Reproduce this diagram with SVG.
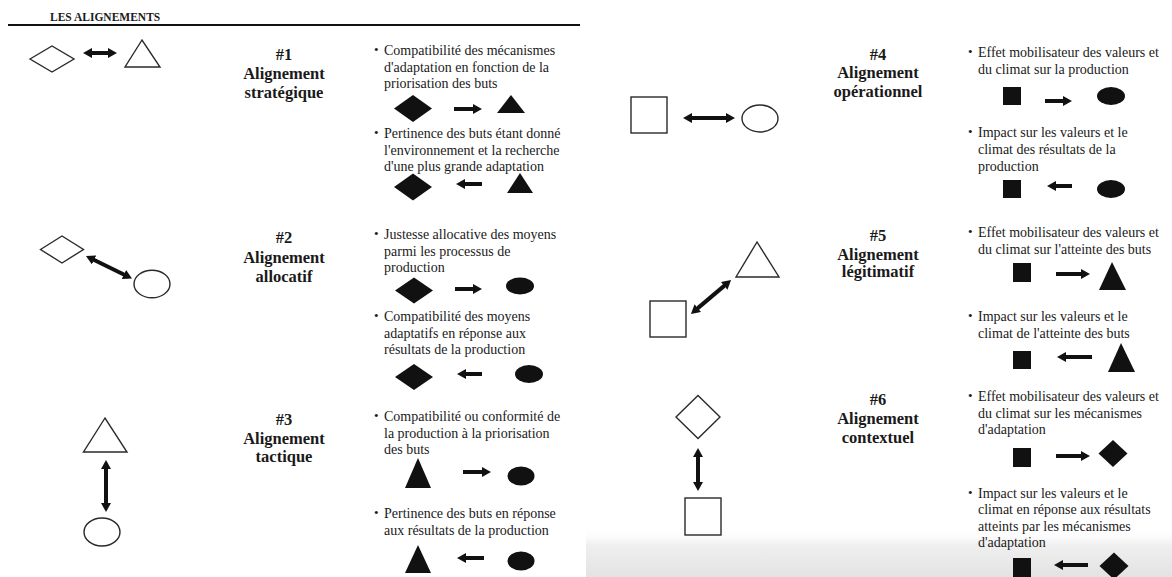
<svg xmlns="http://www.w3.org/2000/svg" width="1172" height="577" viewBox="0 0 1172 577">
<style>
.ol{fill:none;stroke:#2a2a2a;stroke-width:1.4}
.fi{fill:#111}
.cn{stroke:#111;stroke-width:4;fill:none;marker-start:url(#ah);marker-end:url(#ah)}
.ar{stroke:#111;stroke-width:4;fill:none;marker-end:url(#ah)}
text{font-family:"Liberation Serif","Times New Roman",serif;fill:#1a1a1a}
.t{font-size:14px}
.bu{font-size:13px}
.h{font-size:16.5px;font-weight:bold;text-anchor:middle}
.hd{font-size:11.5px;font-weight:bold}
</style>
<defs>
<marker id="ah" viewBox="0 0 9 10" refX="5" refY="5" markerWidth="9" markerHeight="10" markerUnits="userSpaceOnUse" orient="auto-start-reverse"><path d="M0,0 L9,5 L0,10 z" fill="#111"/></marker>
<linearGradient id="gb" x1="0" y1="0" x2="0" y2="1"><stop offset="0" stop-color="#ffffff" stop-opacity="0"/><stop offset="0.35" stop-color="#efefef"/><stop offset="1" stop-color="#e3e3e3"/></linearGradient>
</defs>
<rect x="0" y="0" width="1172" height="577" fill="#ffffff"/>
<rect x="586" y="528" width="586" height="49" fill="url(#gb)"/>

<g id="header">
<text class="hd" x="50" y="20.5">LES ALIGNEMENTS</text>
<line x1="8" y1="25" x2="580" y2="25" stroke="#111" stroke-width="2"/>
</g>

<!-- nodes -->
<g id="n1-diamond"><polygon class="ol" points="30,59 52,46 74,59 52,72"/></g>
<g id="n1-triangle"><polygon class="ol" points="142,40 125,67 160,67"/></g>
<g id="n2-diamond"><polygon class="ol" points="40.5,249.5 62,236 83.5,249.5 62,263"/></g>
<g id="n2-ellipse"><ellipse class="ol" cx="152" cy="284" rx="18" ry="13.7"/></g>
<g id="n3-triangle"><polygon class="ol" points="105,418 83.5,452 127,452"/></g>
<g id="n3-ellipse"><ellipse class="ol" cx="102" cy="532" rx="18" ry="14"/></g>
<g id="n4-square"><rect class="ol" x="631" y="97" width="36" height="36"/></g>
<g id="n4-ellipse"><ellipse class="ol" cx="760" cy="118.5" rx="18" ry="13.5"/></g>
<g id="n5-triangle"><polygon class="ol" points="757,242 736,277 779,277"/></g>
<g id="n5-square"><rect class="ol" x="650" y="301" width="36" height="36"/></g>
<g id="n6-diamond"><polygon class="ol" points="676,417 698,395.5 720,417 698,438.5"/></g>
<g id="n6-square"><rect class="ol" x="685" y="498" width="36" height="37"/></g>

<g id="connectors">
<line class="cn" x1="87" y1="53" x2="113" y2="53"/>
<line class="cn" x1="89.6" y1="257.8" x2="128.4" y2="276.7"/>
<line class="cn" x1="106" y1="464" x2="106" y2="508"/>
<line class="cn" x1="687" y1="118" x2="731" y2="118"/>
<line class="cn" x1="694" y1="311.4" x2="728" y2="282.6"/>
<line class="cn" x1="698" y1="452" x2="698" y2="487"/>
</g>

<g id="sec1">
<text class="h" x="284" y="60">#1</text>
<text class="h" x="284" y="79">Alignement</text>
<text class="h" x="284" y="98">stratégique</text>
<text class="bu" x="374" y="54">•</text>
<text class="t" x="384" y="55">Compatibilité des mécanismes</text>
<text class="t" x="384" y="71.5">d'adaptation en fonction de la</text>
<text class="t" x="384" y="88">priorisation des buts</text>
<polygon class="fi" points="394,108.5 413,95 432,108.5 413,122"/>
<line class="ar" x1="454" y1="109" x2="478" y2="109"/>
<polygon class="fi" points="511,95 497,113 525,113"/>
<text class="bu" x="374" y="137">•</text>
<text class="t" x="384" y="138">Pertinence des buts étant donné</text>
<text class="t" x="384" y="154.5">l'environnement et la recherche</text>
<text class="t" x="384" y="171">d'une plus grande adaptation</text>
<polygon class="fi" points="394,187 413,173.5 432,187 413,200.5"/>
<line class="ar" x1="482" y1="184" x2="460" y2="184"/>
<polygon class="fi" points="520,173 507,193 533,193"/>
</g>

<g id="sec2">
<text class="h" x="284" y="243">#2</text>
<text class="h" x="284" y="263">Alignement</text>
<text class="h" x="284" y="282">allocatif</text>
<text class="bu" x="374" y="238">•</text>
<text class="t" x="384" y="239">Justesse allocative des moyens</text>
<text class="t" x="384" y="255.5">parmi les processus de</text>
<text class="t" x="384" y="272">production</text>
<polygon class="fi" points="395,290.5 414,277.5 433,290.5 414,303.5"/>
<line class="ar" x1="455" y1="289" x2="478" y2="289"/>
<ellipse class="fi" cx="520" cy="286" rx="14" ry="8.5"/>
<text class="bu" x="374" y="320">•</text>
<text class="t" x="384" y="321">Compatibilité des moyens</text>
<text class="t" x="384" y="337.5">adaptatifs en réponse aux</text>
<text class="t" x="384" y="354">résultats de la production</text>
<polygon class="fi" points="395,377 414,364 433,377 414,390"/>
<line class="ar" x1="482" y1="374" x2="461" y2="374"/>
<ellipse class="fi" cx="529" cy="374" rx="14" ry="9"/>
</g>

<g id="sec3">
<text class="h" x="284" y="425">#3</text>
<text class="h" x="284" y="444">Alignement</text>
<text class="h" x="284" y="462">tactique</text>
<text class="bu" x="374" y="420">•</text>
<text class="t" x="384" y="421">Compatibilité ou conformité de</text>
<text class="t" x="384" y="437.5">la production à la priorisation</text>
<text class="t" x="384" y="454">des buts</text>
<polygon class="fi" points="418,458 405,488 431,488"/>
<line class="ar" x1="463" y1="472" x2="487" y2="472"/>
<ellipse class="fi" cx="521" cy="476" rx="13.5" ry="9.5"/>
<text class="bu" x="374" y="517">•</text>
<text class="t" x="384" y="518">Pertinence des buts en réponse</text>
<text class="t" x="384" y="534.5">aux résultats de la production</text>
<polygon class="fi" points="418,545 405,573 431,573"/>
<line class="ar" x1="484" y1="558" x2="461" y2="558"/>
<ellipse class="fi" cx="521" cy="561" rx="13.5" ry="9.5"/>
</g>

<g id="sec4">
<text class="h" x="878" y="60">#4</text>
<text class="h" x="878" y="78">Alignement</text>
<text class="h" x="878" y="97">opérationnel</text>
<text class="bu" x="968" y="56">•</text>
<text class="t" x="978" y="57">Effet mobilisateur des valeurs et</text>
<text class="t" x="978" y="74">du climat sur la production</text>
<rect class="fi" x="1003" y="87" width="18" height="18"/>
<line class="ar" x1="1045" y1="101" x2="1068" y2="101"/>
<ellipse class="fi" cx="1111" cy="96" rx="14" ry="9"/>
<text class="bu" x="968" y="136">•</text>
<text class="t" x="978" y="137">Impact sur les valeurs et le</text>
<text class="t" x="978" y="154">climat des résultats de la</text>
<text class="t" x="978" y="171">production</text>
<rect class="fi" x="1003" y="180" width="18" height="18"/>
<line class="ar" x1="1072" y1="186" x2="1051" y2="186"/>
<ellipse class="fi" cx="1111" cy="189" rx="14" ry="9"/>
</g>

<g id="sec5">
<text class="h" x="878" y="241">#5</text>
<text class="h" x="878" y="259.5">Alignement</text>
<text class="h" x="878" y="277">légitimatif</text>
<text class="bu" x="968" y="236">•</text>
<text class="t" x="978" y="237">Effet mobilisateur des valeurs et</text>
<text class="t" x="978" y="253.5">du climat sur l'atteinte des buts</text>
<rect class="fi" x="1013" y="263" width="18" height="19"/>
<line class="ar" x1="1056" y1="274" x2="1086" y2="274"/>
<polygon class="fi" points="1112,262 1099,290 1126,290"/>
<text class="bu" x="968" y="320">•</text>
<text class="t" x="978" y="321">Impact sur les valeurs et le</text>
<text class="t" x="978" y="337.5">climat de l'atteinte des buts</text>
<rect class="fi" x="1013" y="351" width="18" height="18"/>
<line class="ar" x1="1092" y1="357" x2="1061" y2="357"/>
<polygon class="fi" points="1121,343 1108,372 1135,372"/>
</g>

<g id="sec6">
<text class="h" x="878" y="405">#6</text>
<text class="h" x="878" y="424">Alignement</text>
<text class="h" x="878" y="443">contextuel</text>
<text class="bu" x="968" y="400">•</text>
<text class="t" x="978" y="401">Effet mobilisateur des valeurs et</text>
<text class="t" x="978" y="417.5">du climat sur les mécanismes</text>
<text class="t" x="978" y="434">d'adaptation</text>
<rect class="fi" x="1013" y="448" width="18" height="19"/>
<line class="ar" x1="1056" y1="456" x2="1086" y2="456"/>
<polygon class="fi" points="1098.5,453.5 1113,440 1127.5,453.5 1113,467"/>
<text class="bu" x="968" y="496.5">•</text>
<text class="t" x="978" y="497.5">Impact sur les valeurs et le</text>
<text class="t" x="978" y="514">climat en réponse aux résultats</text>
<text class="t" x="978" y="530.5">atteints par les mécanismes</text>
<text class="t" x="978" y="547">d'adaptation</text>
<rect class="fi" x="1013" y="558" width="18" height="19"/>
<line class="ar" x1="1088" y1="565" x2="1058" y2="565"/>
<polygon class="fi" points="1099.5,566 1114,552.5 1128.5,566 1114,579.5"/>
</g>
</svg>
